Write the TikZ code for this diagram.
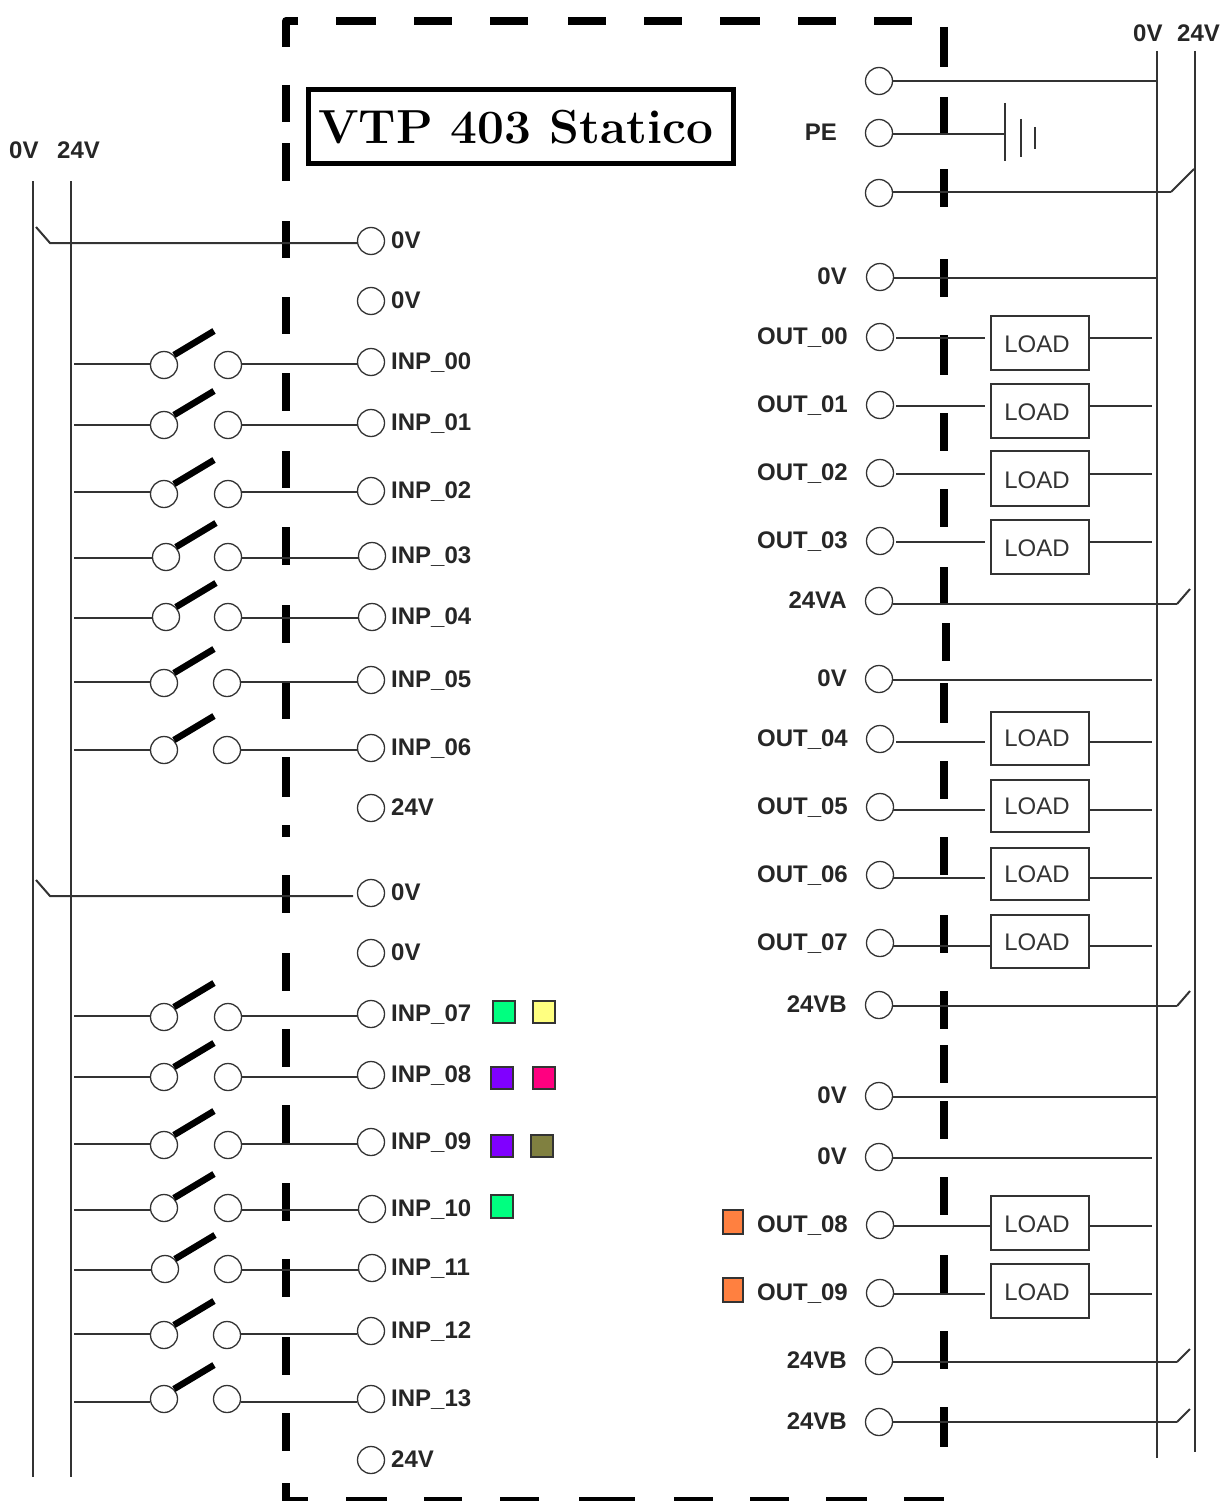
\documentclass[tikz,border=0pt]{standalone}
\usepackage{fontspec}
\setmainfont{Liberation Sans}
\newfontfamily\labfont{Liberation Sans Bold}
\newfontfamily\titlefont{Latin Modern Roman}
\definecolor{wire}{HTML}{333333}
\tikzset{
  term/.style={circle,draw=black!80,line width=1.3pt,minimum size=27pt,inner sep=0pt,fill=white},
  wireline/.style={draw=wire,line width=2pt},
  dashv/.style={draw=black,line width=8pt},
  dashh/.style={draw=black,line width=8pt},
  blade/.style={draw=black,line width=6.5pt},
  lab/.style={inner sep=0pt,font=\labfont\fontsize{24}{28}\selectfont,text=black!85},
  loadbox/.style={draw=wire,line width=2pt,minimum width=98pt,inner sep=0pt},
  loadtext/.style={inner sep=0pt,font=\fontsize{24}{28}\selectfont,text=wire},
  swatch/.style={draw=black!80,line width=2pt,inner sep=0pt},
}
\begin{document}
\begin{tikzpicture}[x=1pt,y=-1pt]
\useasboundingbox (0,0) rectangle (1221,1501);
% system boundary
\draw[dashv,line join=round] (298,21) -- (286,21) -- (286,47);
\foreach \a/\b in {85/122,143/181,221/258,297/334,373/411,451/488,527/565,605/643,681/719,757/797,825/837,875/913,953/991,1029/1067,1105/1143,1183/1221,1259/1297,1337/1375,1413/1451}
  \draw[dashv] (286,\a) -- (286,\b);
\foreach \a/\b in {336/376,414/452,490/528,568/606,644/682,720/760,798/836,874/912}
  \draw[dashh] (\a,21) -- (\b,21);
\foreach \a/\b in {27/67,97/134,169/207,259/297,335/375,413/451,489/527,567/604,683/723,761/799,837/875,915/953,991/1029,1045/1083,1101/1139,1177/1215,1255/1294,1331/1369,1407/1447}
  \draw[dashv] (944,\a) -- (944,\b);
\draw[dashv] (946,623) -- (946,661);
\fill[black] (282,1483) rectangle (290,1501);
\fill[black] (282,1497) rectangle (308,1501);
\foreach \a/\b in {346/387,424/462,500/539,579/635,674/713,750/789,826/867,904/944}
  \fill[black] (\a,1497) rectangle (\b,1501);
% title
\node[draw=black,line width=5pt,minimum width=425pt,minimum height=74pt,inner sep=0pt] (title) at (521,126.5) {};
\node[inner sep=0pt,anchor=base west,font=\titlefont\bfseries\fontsize{47.8}{50}\selectfont] (titletext) at (318,143) {VTP 403 Statico};
% left buses
\coordinate (la0) at (33,181); \coordinate (lb0) at (33,1477);
\coordinate (la24) at (71,181); \coordinate (lb24) at (71,1477);
\draw[wireline] (la0) -- (lb0);
\draw[wireline] (la24) -- (lb24);
\node[lab,anchor=base west] (l0v) at (9,158) {0V};
\node[lab,anchor=base west] (l24v) at (57,158) {24V};
% right buses
\coordinate (ra0) at (1157,51); \coordinate (rb0) at (1157,1458);
\coordinate (ra24) at (1195,51); \coordinate (rb24) at (1195,1452);
\draw[wireline] (ra0) -- (rb0);
\draw[wireline] (ra24) -- (rb24);
\node[lab,anchor=base west] (r0v) at (1133,42) {0V};
\node[lab,anchor=base west] (r24v) at (1177,42) {24V};
% left plain terminals
\foreach \n/\ty/\lbl in {a/241/0V,b/301/0V,c/808/24V,d/893/0V,e/953/0V,f/1460/24V}{
  \node[term] (t\n) at (371,\ty) {};
  \node[lab,anchor=base west] (tl\n) at (391,\ty+7.5) {\lbl};
}
\coordinate (nubA) at (36,227); \coordinate (kneeA) at (50,243);
\draw[wireline] (nubA) -- (kneeA) -- (ta.west |- kneeA);
\coordinate (nubD) at (36,880); \coordinate (kneeD) at (50,896); \coordinate (endD) at (353,896);
\draw[wireline] (nubD) -- (kneeD) -- (endD);
% input rows: number/terminal x/terminal y/wire y/switch x/switch y/contact x
\foreach \n/\tx/\ty/\wy/\sx/\sy/\rx in {
 00/371/362/364/164/365/228,
 01/371/423/425/164/425/228,
 02/371/491/492/164/494/228,
 03/372/556/558/166/557/228,
 04/372/617/618/166/617/228,
 05/371/680/682/164/683/227,
 06/371/748/750/164/750/227,
 07/371/1014/1016/164/1017/228,
 08/371/1075/1077/164/1077/228,
 09/371/1142/1144/164/1145/228,
 10/372/1209/1210/164/1208/228,
 11/372/1268/1270/165/1269/228,
 12/371/1331/1334/164/1335/227,
 13/371/1399/1402/164/1399/227}{
  \node[term] (in\n) at (\tx,\ty) {};
  \node[lab,anchor=base west] (il\n) at (391,\ty+7.5) {INP\_\n};
  \node[term] (sa\n) at (\sx,\sy) {};
  \node[term] (sb\n) at (\rx,\sy) {};
  \coordinate (ws\n) at (74,\wy);
  \draw[wireline] (ws\n) -- (sa\n.west |- ws\n);
  \draw[wireline] (sb\n.east |- ws\n) -- (in\n.west |- ws\n);
  \coordinate (bl\n) at (\sx+50,\sy-34);
  \draw[blade] (\sx+10,\sy-10) -- (bl\n);
}
% right plain rows: id/term x/term y/label/wire y/end x
\foreach \n/\tx/\ty/\lbl/\wy/\ex in {
 a/879/81//81/1157,
 c/879/193//192/1171,
 d/880/277/0V/278/1157,
 e/879/601/24VA/604/1177,
 f/879/679/0V/680/1152,
 g/879/1005/24VB/1006/1177,
 h/879/1096/0V/1097/1157,
 i/879/1157/0V/1158/1152,
 j/879/1361/24VB/1362/1177,
 k/879/1422/24VB/1422/1177}{
  \node[term] (o\n) at (\tx,\ty) {};
  \node[lab,anchor=base east] (ol\n) at (847,\ty+7) {\lbl};
  \coordinate (we\n) at (\ex,\wy);
  \draw[wireline] (o\n.east |- we\n) -- (we\n);
}
\coordinate (nubc) at (1194,169); \draw[wireline] (wec) -- (nubc);
\coordinate (nube) at (1190,589); \draw[wireline] (wee) -- (nube);
\coordinate (nubg) at (1190,991); \draw[wireline] (weg) -- (nubg);
\coordinate (nubj) at (1190,1349); \draw[wireline] (wej) -- (nubj);
\coordinate (nubk) at (1190,1409); \draw[wireline] (wek) -- (nubk);
% PE and earth
\node[term] (ope) at (879,133) {};
\node[lab,anchor=base east] (olpe) at (837,141) {PE};
\coordinate (ea1) at (1005,103); \coordinate (eb1) at (1005,161);
\coordinate (ea2) at (1021,119); \coordinate (eb2) at (1021,157);
\coordinate (ea3) at (1035,127); \coordinate (eb3) at (1035,149);
\draw[wireline] (ope.east |- 0,134) -- (ea1 |- 0,134);
\draw[wireline] (ea1) -- (eb1);
\draw[wireline] (ea2) -- (eb2);
\draw[wireline] (ea3) -- (eb3);
% output rows: number/term y/wire y/box top/box bottom/text y/left wire start/left wire end
\foreach \n/\ty/\wy/\bt/\bb/\tty/\wa/\wb in {
 00/337/338/316/370/344/896/985,
 01/405/406/384/438/412/896/985,
 02/473/474/451/506/480/896/985,
 03/541/542/520/574/548/896/985,
 04/739/742/712/765/738/896/985,
 05/807/810/780/832/806/893/985,
 06/875/878/848/900/874/893/985,
 07/943/946/915/968/942/893/991,
 08/1225/1226/1196/1250/1224/893/991,
 09/1293/1294/1264/1318/1292/893/985}{
  \node[term] (ou\n) at (880,\ty) {};
  \node[lab,anchor=base east] (ul\n) at (848,\ty+7) {OUT\_\n};
  \node[loadbox,minimum height=\bb pt-\bt pt] (lb\n) at (1040,{(\bt+\bb)/2}) {};
  \node[loadtext] (lt\n) at (1037,\tty) {LOAD};
  \draw[wireline] (\wa,\wy) -- (\wb,\wy);
  \coordinate (we\n) at (1152,\wy);
  \draw[wireline] (lb\n.east |- we\n) -- (we\n);
}
% swatches
\foreach \n/\xa/\ya/\xb/\yb/\c in {
 s1/493/1001/515/1023/00FF80,
 s2/533/1001/555/1023/FFFF80,
 s3/491/1067/513/1089/8000FF,
 s4/533/1067/555/1089/FF0080,
 s5/491/1135/513/1157/8000FF,
 s6/531/1135/553/1157/808040,
 s7/491/1195/513/1218/00FF80,
 s8/723/1210/743/1234/FF8040,
 s9/723/1278/743/1302/FF8040}{
  \definecolor{sw}{HTML}{\c}
  \draw[swatch,fill=sw] (\xa,\ya) rectangle (\xb,\yb);
}
\end{tikzpicture}
\end{document}
